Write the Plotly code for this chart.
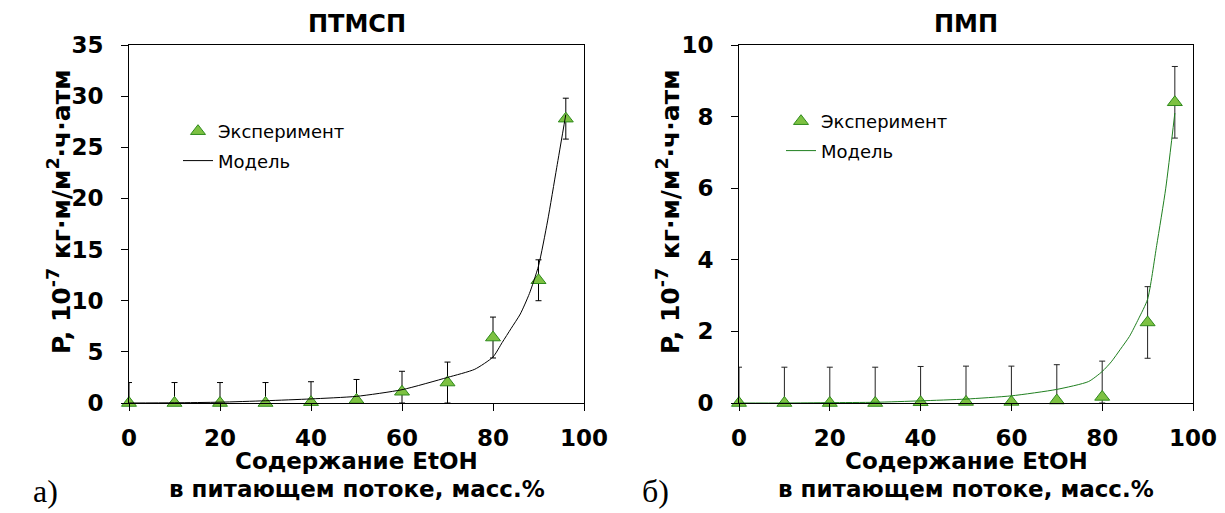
import plotly.graph_objects as go

# ---- data ----
x_exp = [0, 10, 20, 30, 40, 50, 60, 70, 80, 90, 96]

# ПТМСП (left)
ptmsp_exp = [0, 0, 0, 0, 0.08, 0.3, 1.1, 2.0, 6.4, 12.0, 27.8]
ptmsp_err_plus = [2, 2, 2, 2, 2, 2, 2, 2, 2, 2, 2]
ptmsp_err_minus = [0, 0, 0, 0, 0.08, 0.3, 1.1, 2.0, 2, 2, 2]
ptmsp_model_x = [0, 10, 20, 30, 40, 50, 60, 70, 76, 80, 82, 84, 86, 88, 90, 92, 94, 96]
ptmsp_model_y = [0, 0.02, 0.08, 0.22, 0.4, 0.65, 1.3, 2.5, 3.3, 4.5, 5.9, 7.3, 8.7,
                 10.7, 13.4, 17.8, 23.0, 28.2]

# ПМП (right)
pmp_exp = [0, 0, 0, 0, 0.02, 0.03, 0.03, 0.07, 0.17, 2.25, 8.4]
pmp_err_plus = [1, 1, 1, 1, 1, 1, 1, 1, 1, 1, 1]
pmp_err_minus = [0, 0, 0, 0, 0.02, 0.03, 0.03, 0.07, 0.17, 1, 1]
pmp_model_x = [0, 10, 20, 30, 40, 50, 60, 70, 77, 80, 82, 84, 86, 88, 90, 92, 94, 96]
pmp_model_y = [0, 0, 0.01, 0.02, 0.06, 0.11, 0.2, 0.38, 0.6, 0.88, 1.15, 1.5, 1.86,
               2.35, 2.9, 4.4, 6.0, 8.1]

x_ticks = [0, 20, 40, 60, 80, 100]
left_y_ticks = [0, 5, 10, 15, 20, 25, 30, 35]
right_y_ticks = [0, 2, 4, 6, 8, 10]

titles = ["ПТМСП", "ПМП"]
y_title = "P, 10<sup>-7</sup> кг·м/м<sup>2</sup>·ч·атм"
x_title_1 = "Содержание EtOH"
x_title_2 = "в питающем потоке, масс.%"
panel_labels = ["а)", "б)"]
legend_names = ["Эксперимент", "Модель"]

# ---- style ----
# page body has an 8px margin: the figure starts 8px in from the window corner
OFF = 8
W, H = 1225 - OFF, 513 - OFF
FONT = "DejaVu Sans"
marker_fill = "#7dc142"
marker_line = "#2f8a1c"
green_line = "#1f7f1f"

def px_x(p):
    # screen pixel -> paper fraction
    return (p - OFF) / W

def px_y(p):
    return 1 - (p - OFF) / H

fig = go.Figure()

# left panel
fig.add_trace(go.Scatter(
    x=x_exp, y=ptmsp_exp, mode="markers", name=legend_names[0],
    marker=dict(symbol="triangle-up", size=13, color=marker_fill,
                line=dict(color=marker_line, width=1)),
    error_y=dict(type="data", array=ptmsp_err_plus, arrayminus=ptmsp_err_minus,
                 symmetric=False, color="black", thickness=1, width=3),
    cliponaxis=False, xaxis="x", yaxis="y", legend="legend", legendrank=1,
    legendgroup="l_exp"))
fig.add_trace(go.Scatter(
    x=ptmsp_model_x, y=ptmsp_model_y, mode="lines", name=legend_names[1],
    line=dict(color="black", width=1, shape="spline", smoothing=0.6),
    xaxis="x", yaxis="y", legend="legend", legendrank=2, legendgroup="l_mod"))

# right panel
fig.add_trace(go.Scatter(
    x=x_exp, y=pmp_exp, mode="markers", name=legend_names[0],
    marker=dict(symbol="triangle-up", size=13, color=marker_fill,
                line=dict(color=marker_line, width=1)),
    error_y=dict(type="data", array=pmp_err_plus, arrayminus=pmp_err_minus,
                 symmetric=False, color="#222222", thickness=1, width=3),
    cliponaxis=False, xaxis="x2", yaxis="y2", legend="legend2", legendrank=1,
    legendgroup="r_exp"))
fig.add_trace(go.Scatter(
    x=pmp_model_x, y=pmp_model_y, mode="lines", name=legend_names[1],
    line=dict(color=green_line, width=1, shape="spline", smoothing=0.6),
    xaxis="x2", yaxis="y2", legend="legend2", legendrank=2, legendgroup="r_mod"))

tickfont = dict(family=FONT, size=23, color="black", weight="bold")
axis_common = dict(showline=True, linecolor="black", linewidth=1, mirror=True,
                   ticks="outside", ticklen=7, tickcolor="black", showgrid=False,
                   zeroline=False, tickfont=tickfont, automargin=False)

ydom = [px_y(403), px_y(45)]
legend_font = dict(family=FONT, size=18, color="black")
fig.update_layout(
    width=W, height=H, autosize=False,
    margin=dict(l=0, r=0, t=0, b=0),
    paper_bgcolor="white", plot_bgcolor="white",
    xaxis=dict(domain=[px_x(129), px_x(584)], range=[0, 100], tickvals=x_ticks,
               anchor="y", ticklabelstandoff=7, ticklabeloverflow="allow", **axis_common),
    yaxis=dict(domain=ydom, range=[0, 35], tickvals=left_y_ticks, anchor="x",
               ticklabelstandoff=13, **axis_common),
    xaxis2=dict(domain=[px_x(739), px_x(1193)], range=[0, 100], tickvals=x_ticks,
                anchor="y2", ticklabelstandoff=7, ticklabeloverflow="allow", **axis_common),
    yaxis2=dict(domain=ydom, range=[0, 10], tickvals=right_y_ticks, anchor="x2",
                ticklabelstandoff=13, **axis_common),
    legend=dict(x=px_x(178), y=px_y(113), xanchor="left", yanchor="top",
                bgcolor="rgba(0,0,0,0)", font=legend_font, tracegroupgap=3),
    legend2=dict(x=px_x(781), y=px_y(103), xanchor="left", yanchor="top",
                 bgcolor="rgba(0,0,0,0)", font=legend_font, tracegroupgap=3),
    showlegend=True,
)

bold = dict(family=FONT, color="black", weight="bold")
ann = []
centers = [(129 + 584) / 2, (739 + 1193) / 2]
ytitle_x = [59, 668]
label_x = [45, 655]
for i in range(2):
    ann.append(dict(text=titles[i], x=px_x(centers[i]), y=px_y(OFF), xref="paper",
                    yref="paper", showarrow=False, font=dict(size=24, **bold),
                    xanchor="center", yanchor="top"))
    ann.append(dict(text=x_title_1, x=px_x(centers[i]), y=px_y(461), xref="paper",
                    yref="paper", showarrow=False, font=dict(size=23, **bold),
                    xanchor="center", yanchor="middle"))
    ann.append(dict(text=x_title_2, x=px_x(centers[i]), y=px_y(489), xref="paper",
                    yref="paper", showarrow=False, font=dict(size=23, **bold),
                    xanchor="center", yanchor="middle"))
    ann.append(dict(text=y_title, x=px_x(ytitle_x[i]), y=px_y(212), xref="paper",
                    yref="paper", showarrow=False, textangle=-90,
                    font=dict(size=25, **bold), xanchor="center", yanchor="middle"))
    ann.append(dict(text=panel_labels[i], x=px_x(label_x[i]), y=px_y(491), xref="paper",
                    yref="paper", showarrow=False,
                    font=dict(family="Liberation Serif", size=32, color="black"),
                    xanchor="center", yanchor="middle"))
fig.update_layout(annotations=ann)

fig.write_html("out.html")
